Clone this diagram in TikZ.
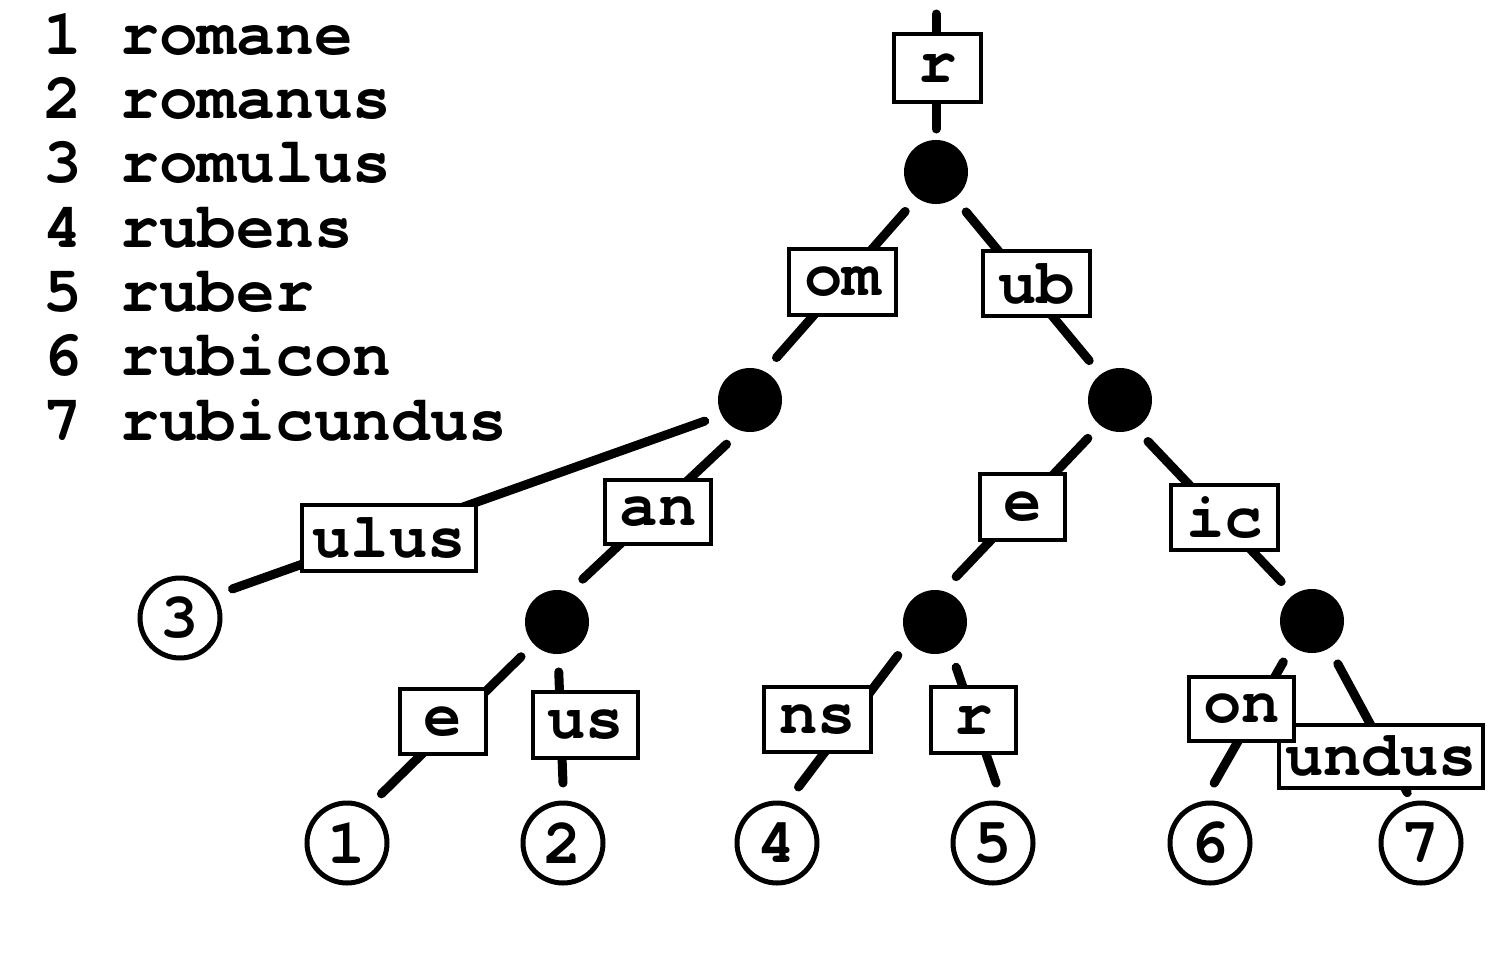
\documentclass[tikz,border=0pt]{standalone}
\usepackage{fontspec}
\newfontfamily\cmono{TeX Gyre Cursor}
\newcommand\labfont{\cmono\bfseries\fontsize{64}{64}\selectfont}
\newcommand\wordfont{\cmono\bfseries\fontsize{64.5}{64.5}\selectfont}
\newcommand\leaffont{\cmono\bfseries\fontsize{64}{64}\selectfont}
\begin{document}
\begin{tikzpicture}[x=1pt,y=-1pt,
  edge/.style={line width=9pt, line cap=round},
  inner/.style={circle, fill=black, minimum size=64pt, inner sep=0pt, outer sep=18pt},
  leaf/.style={circle, draw=black, line width=5pt, fill=white, minimum size=80pt, inner sep=0pt, outer sep=20pt, font=\leaffont},
  lbl/.style={draw=black, line width=4pt, fill=white, inner sep=0pt, font=\labfont},
  word/.style={anchor=base west, inner sep=0pt, font=\wordfont}]
\useasboundingbox (0,0) rectangle (1508,956);
\fill[white] (0,0) rectangle (1508,956);

% word list
\node[word] (w1) at (43,54)  {1 romane};
\node[word] (w2) at (43,118) {2 romanus};
\node[word] (w3) at (43,182) {3 romulus};
\node[word] (w4) at (43,247) {4 rubens};
\node[word] (w5) at (43,311) {5 ruber};
\node[word] (w6) at (43,375) {6 rubicon};
\node[word] (w7) at (43,440) {7 rubicundus};

% tree nodes
\coordinate (top) at (936,14);
\node[inner] (root) at (936,172) {};
\node[inner] (A) at (750,400) {};
\node[inner] (B) at (1120,400) {};
\node[inner] (C) at (557,622) {};
\node[inner] (D) at (935,622) {};
\node[inner] (E) at (1312,621) {};
\node[leaf] (L1) at (347,843) {1};
\node[leaf] (L2) at (563,843) {2};
\node[leaf] (L3) at (180,618) {3};
\node[leaf] (L4) at (777,843) {4};
\node[leaf] (L5) at (993,843) {5};
\node[leaf] (L6) at (1210,843) {6};
\node[leaf] (L7) at (1421,843) {7};

% edges
\draw[edge, shorten >=-7pt] (top) -- (root.90);
\draw[edge] (root.232) -- (A.58);
\draw[edge] (root.307) -- (B.128);
\draw[edge] (A.205) -- (L3.29);
\draw[edge] (A.242) -- (C.59);
\draw[edge] (B.230) -- (D.65);
\draw[edge] (B.304) -- (E.128);
\draw[edge] (C.224) -- (L1.55);
\draw[edge] (C.272) -- (L2.90);
\draw[edge] (D.222) -- (L4.69);
\draw[edge] (D.295) -- (L5.87);
\draw[edge] (E.235) -- (L6.86);
\draw[edge, shorten >=-8pt] (E.301) -- (L7.107);

% edge labels
\node[lbl, minimum width=87pt, minimum height=68pt] (lr) at (937.5,68) {r};
\node[lbl, minimum width=107pt, minimum height=66pt] (lom) at (842.5,282) {om};
\node[lbl, minimum width=107pt, minimum height=65pt] (lub) at (1036.5,283.5) {ub};
\node[lbl, minimum width=174pt, minimum height=66pt] (lulus) at (389,538) {ulus};
\node[lbl, minimum width=106pt, minimum height=64pt] (lan) at (658,512) {an};
\node[lbl, minimum width=85pt, minimum height=66pt] (le1) at (1022.5,507) {e};
\node[lbl, minimum width=107pt, minimum height=65pt] (lic) at (1224.5,517.5) {ic};
\node[lbl, minimum width=86pt, minimum height=65pt] (le2) at (443,721.5) {e};
\node[lbl, minimum width=105pt, minimum height=66pt] (lus) at (585.5,725) {us};
\node[lbl, minimum width=107pt, minimum height=65pt] (lns) at (817.5,719.5) {ns};
\node[lbl, minimum width=85pt, minimum height=66pt] (lr2) at (973.5,720) {r};
\node[lbl, minimum width=204pt, minimum height=63pt] (lundus) at (1381,756.5) {undus};
\node[lbl, minimum width=105pt, minimum height=64pt] (lon) at (1241.5,709) {on};
\end{tikzpicture}
\end{document}
